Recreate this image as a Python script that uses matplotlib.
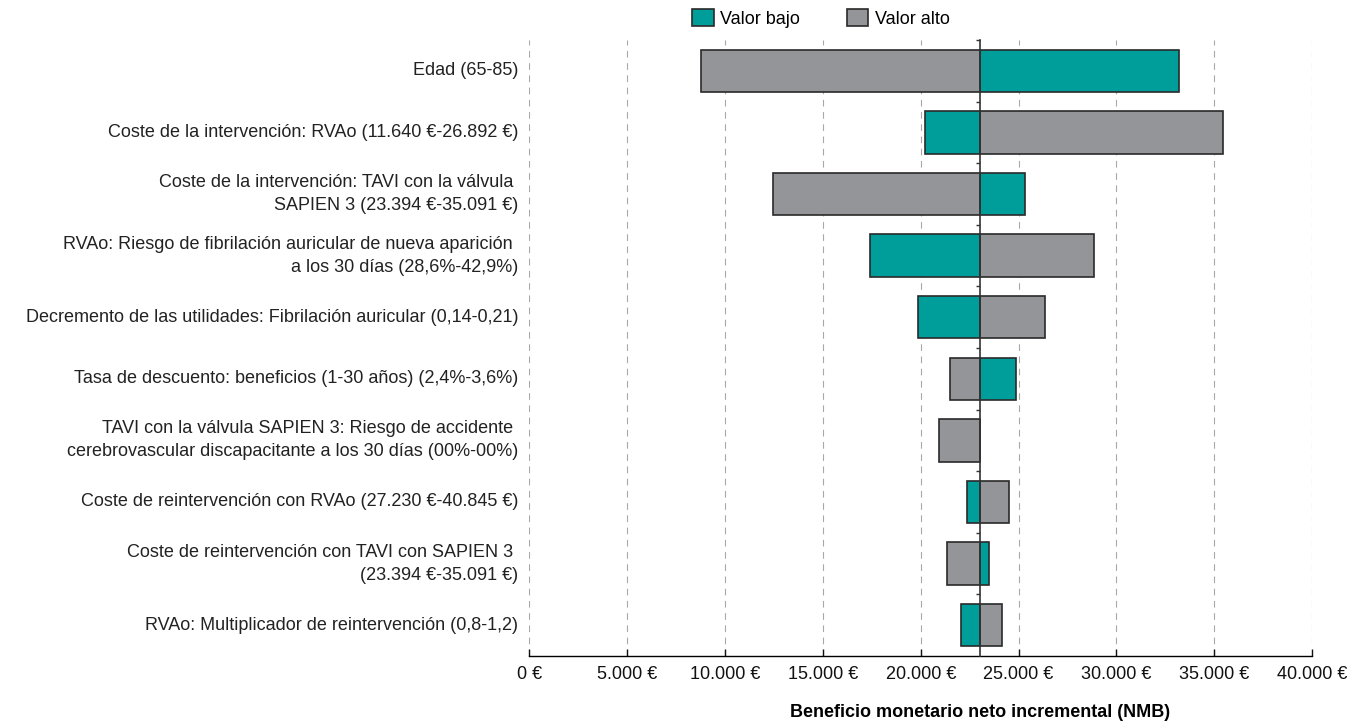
import numpy as np
import matplotlib
matplotlib.use("Agg")
import matplotlib.pyplot as plt
import matplotlib.transforms as mtransforms
from matplotlib.patches import Patch
from matplotlib.ticker import FuncFormatter

# datos del diagrama de tornado (NMB en euros)
parametros = [
    "Edad (65-85)",
    "Coste de la intervención: RVAo (11.640 €-26.892 €)",
    "Coste de la intervención: TAVI con la válvula \nSAPIEN 3 (23.394 €-35.091 €)",
    "RVAo: Riesgo de fibrilación auricular de nueva aparición \na los 30 días (28,6%-42,9%)",
    "Decremento de las utilidades: Fibrilación auricular (0,14-0,21)",
    "Tasa de descuento: beneficios (1-30 años) (2,4%-3,6%)",
    "TAVI con la válvula SAPIEN 3: Riesgo de accidente \ncerebrovascular discapacitante a los 30 días (00%-00%)",
    "Coste de reintervención con RVAo (27.230 €-40.845 €)",
    "Coste de reintervención con TAVI con SAPIEN 3 \n(23.394 €-35.091 €)",
    "RVAo: Multiplicador de reintervención (0,8-1,2)",
]
nmb_bajo = [33200, 20200, 25330, 17390, 19860, 24880, 23030, 22360, 23510, 22050]
nmb_alto = [8780, 35460, 12450, 28860, 26340, 21520, 20930, 24490, 21350, 24150]
nmb_base = 23030
xticks = [0, 5000, 10000, 15000, 20000, 25000, 30000, 35000, 40000]

teal = "#009e9a"
gris = "#949599"
borde = "#2a2a2a"
fuente = ["Liberation Sans", "DejaVu Sans"]

fig = plt.figure(figsize=(13.59, 7.25), dpi=100)
ax = fig.add_axes([0.3896, 0.0952, 0.5758, 0.8496])

y = np.arange(len(parametros))
ax.barh(y, np.array(nmb_bajo) - nmb_base, left=nmb_base, height=0.69,
        color=teal, edgecolor=borde, linewidth=1.2, zorder=3)
ax.barh(y, np.array(nmb_alto) - nmb_base, left=nmb_base, height=0.69,
        color=gris, edgecolor=borde, linewidth=1.2, zorder=3)

ax.set_xlim(0, 40000)
ax.set_ylim(len(parametros) - 0.5, -0.5)

ax.set_xticks(xticks)
ax.xaxis.set_major_formatter(FuncFormatter(lambda v, p: f"{v:,.0f} €".replace(",", ".")))
for lab in ax.get_xticklabels():
    lab.set_family(fuente)
    lab.set_fontsize(13)
ax.tick_params(axis="x", direction="in", length=5, width=1, pad=7.5, colors="#111111")

ax.grid(axis="x", linestyle=(0, (6, 5)), color="#a8a8a8", linewidth=0.8)
ax.set_axisbelow(True)

for s in ["top", "right"]:
    ax.spines[s].set_visible(False)
ax.spines["left"].set_position(("data", nmb_base))
ax.spines["left"].set_color("#333333")
ax.spines["left"].set_linewidth(1.2)
ax.spines["left"].set_zorder(4)
ax.spines["bottom"].set_linewidth(1.0)

ax.set_yticks(np.arange(-0.5, len(parametros) - 0.5, 1))
ax.tick_params(axis="y", length=3, width=1, labelleft=False, colors="#333333")

trans = mtransforms.blended_transform_factory(ax.transAxes, ax.transData)
for yi, nombre in zip(y, parametros):
    ax.text(-0.0145, yi, nombre, transform=trans, ha="right", va="center",
            multialignment="right", fontsize=13, family=fuente, color="#222222",
            linespacing=1.45)

ax.set_xlabel("Beneficio monetario neto incremental (NMB)", fontsize=13,
              fontweight="bold", family=fuente, va="center")
ax.xaxis.set_label_coords(0.5757, -0.0925)

handles = [Patch(facecolor=teal, edgecolor=borde, linewidth=1.2),
           Patch(facecolor=gris, edgecolor=borde, linewidth=1.2)]
fig.legend(handles, ["Valor bajo", "Valor alto"], loc="center",
           bbox_to_anchor=(0.604, 0.975), ncol=2, frameon=False,
           handlelength=1.2, handleheight=1.1, handletextpad=0.35,
           columnspacing=2.6, prop={"family": fuente, "size": 13})

fig.savefig("out.png", dpi=100)
